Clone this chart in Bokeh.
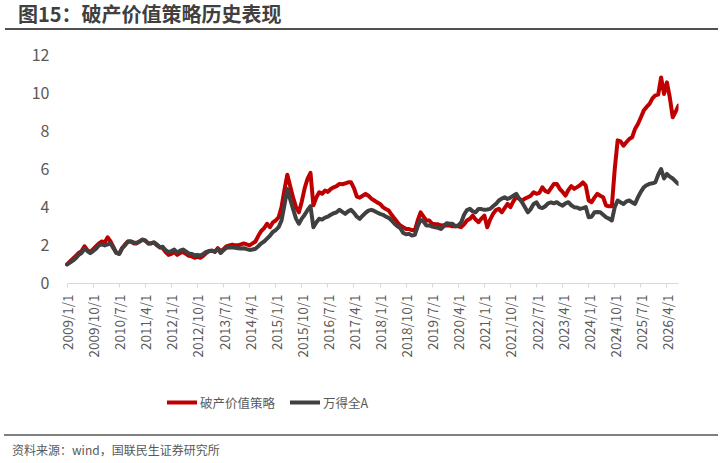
from math import pi

from bokeh.plotting import figure
from bokeh.models import Range1d, FixedTicker, Legend, Div, LinearAxis
from bokeh.layouts import column
from bokeh.embed import file_html
from bokeh.resources import INLINE

FONT = "Noto Sans CJK SC"

title_text = "图15：破产价值策略历史表现"
source_text = "资料来源：wind，国联民生证券研究所"
series_names = ["破产价值策略", "万得全A"]

# x tick labels (every 9 months), data is monthly from 2009/1
tick_labels = ["2009/1/1", "2009/10/1", "2010/7/1", "2011/4/1", "2012/1/1", "2012/10/1",
               "2013/7/1", "2014/4/1", "2015/1/1", "2015/10/1", "2016/7/1", "2017/4/1",
               "2018/1/1", "2018/10/1", "2019/7/1", "2020/4/1", "2021/1/1", "2021/10/1",
               "2022/7/1", "2023/4/1", "2024/1/1", "2024/10/1", "2025/7/1", "2026/4/1"]
y_ticks = [0, 2, 4, 6, 8, 10, 12]

# 破产价值策略 (monthly)
strategy = [
    1.00, 1.15, 1.30, 1.45, 1.60, 1.70, 1.95, 1.75, 1.65, 1.80, 1.95, 2.10,   # 2009
    2.20, 2.15, 2.42, 2.20, 1.90, 1.60, 1.55, 1.85, 2.05, 2.20, 2.20, 2.10,   # 2010
    2.10, 2.20, 2.30, 2.25, 2.10, 2.10, 2.15, 2.00, 1.90, 1.85, 1.65, 1.50,   # 2011
    1.55, 1.65, 1.50, 1.60, 1.65, 1.55, 1.45, 1.42, 1.35, 1.40, 1.35, 1.45,   # 2012
    1.60, 1.70, 1.72, 1.65, 1.85, 1.70, 1.80, 1.95, 2.00, 2.04, 2.00, 2.00,   # 2013
    2.05, 2.10, 2.05, 2.00, 2.10, 2.20, 2.50, 2.75, 2.90, 3.13, 2.95, 3.20,   # 2014
    3.30, 3.47, 4.00, 4.90, 5.70, 5.10, 4.50, 4.00, 3.73, 4.30, 5.00, 5.50,   # 2015
    5.80, 4.10, 4.50, 4.78, 4.70, 4.87, 4.80, 4.95, 5.04, 5.10, 5.22, 5.20,   # 2016
    5.25, 5.30, 5.30, 5.00, 4.55, 4.50, 4.60, 4.70, 4.60, 4.45, 4.35, 4.25,   # 2017
    4.17, 4.00, 3.90, 3.82, 3.60, 3.40, 3.21, 3.04, 2.95, 2.86, 2.85, 2.80,   # 2018
    2.77, 3.30, 3.73, 3.50, 3.30, 3.30, 3.13, 3.10, 3.10, 3.04, 3.05, 3.04,   # 2019
    3.04, 3.00, 3.00, 3.00, 2.95, 3.10, 3.30, 3.39, 3.56, 3.35, 3.21, 3.40,   # 2020
    3.56, 2.95, 3.35, 3.65, 3.85, 3.91, 3.73, 3.95, 4.17, 4.00, 4.30, 4.52,   # 2021
    4.45, 4.34, 4.45, 4.52, 4.60, 4.78, 4.70, 4.75, 5.04, 4.85, 4.78, 5.00,   # 2022
    5.22, 5.22, 4.96, 4.80, 4.61, 4.90, 5.10, 4.96, 5.05, 5.15, 5.30, 5.13,   # 2023
    4.35, 4.26, 4.50, 4.70, 4.60, 4.52, 4.08, 4.05, 4.05, 6.00, 7.50, 7.45,   # 2024
    7.22, 7.40, 7.57, 7.66, 8.10, 8.36, 8.70, 9.06, 9.25, 9.41, 9.70, 9.86,   # 2025
    9.90, 10.80, 9.93, 10.54, 9.75, 8.71, 9.00, 9.32,                         # 2026
]

# 万得全A
wind_a = [
    1.00, 1.10, 1.20, 1.32, 1.50, 1.60, 1.82, 1.70, 1.59, 1.70, 1.82, 2.00,   # 2009
    2.05, 1.99, 2.05, 2.10, 1.85, 1.60, 1.55, 1.85, 2.00, 2.20, 2.20, 2.15,   # 2010
    2.13, 2.20, 2.29, 2.25, 2.10, 2.11, 2.15, 2.05, 1.90, 1.92, 1.75, 1.64,   # 2011
    1.70, 1.78, 1.62, 1.72, 1.78, 1.68, 1.58, 1.55, 1.48, 1.50, 1.47, 1.55,   # 2012
    1.65, 1.70, 1.72, 1.68, 1.80, 1.60, 1.75, 1.87, 1.88, 1.90, 1.87, 1.85,   # 2013
    1.83, 1.85, 1.80, 1.76, 1.78, 1.82, 1.95, 2.10, 2.20, 2.35, 2.50, 2.70,   # 2014
    2.80, 2.95, 3.30, 4.10, 4.95, 4.40, 3.90, 3.40, 3.13, 3.40, 3.60, 3.85,   # 2015
    4.05, 2.95, 3.20, 3.39, 3.35, 3.45, 3.50, 3.60, 3.68, 3.73, 3.86, 3.75,   # 2016
    3.65, 3.78, 3.86, 3.70, 3.50, 3.39, 3.55, 3.70, 3.82, 3.86, 3.80, 3.72,   # 2017
    3.65, 3.60, 3.50, 3.44, 3.30, 3.13, 3.00, 2.90, 2.65, 2.58, 2.60, 2.51,   # 2018
    2.55, 3.00, 3.33, 3.25, 3.04, 3.04, 2.98, 2.95, 2.92, 2.86, 3.00, 3.16,   # 2019
    3.13, 3.13, 3.00, 3.04, 3.20, 3.60, 3.85, 3.91, 3.78, 3.73, 3.91, 3.90,   # 2020
    3.86, 3.88, 3.91, 4.05, 4.17, 4.35, 4.45, 4.52, 4.43, 4.50, 4.60, 4.70,   # 2021
    4.45, 4.26, 4.00, 3.73, 3.90, 4.17, 4.25, 4.00, 3.95, 4.05, 4.20, 4.25,   # 2022
    4.20, 4.26, 4.15, 4.08, 4.20, 4.26, 4.10, 4.00, 3.98, 3.91, 3.95, 4.00,   # 2023
    3.47, 3.50, 3.73, 3.75, 3.73, 3.60, 3.47, 3.40, 3.30, 4.00, 4.35, 4.25,   # 2024
    4.17, 4.30, 4.35, 4.25, 4.17, 4.52, 4.80, 5.04, 5.15, 5.22, 5.25, 5.30,   # 2025
    5.70, 6.00, 5.50, 5.74, 5.60, 5.50, 5.35, 5.22,                           # 2026
]

months = list(range(len(strategy)))


def month_index(label):
    y, m, _ = label.split("/")
    return (int(y) - 2009) * 12 + int(m) - 1


tick_pos = [month_index(t) for t in tick_labels]

# the frame runs on below zero so the legend (inside the frame) is not clipped;
# the x axis is pinned at y=0 and the range starts a little before the first month
# so the first rotated tick label is not cut by the frame edge
p = figure(width=720, height=404, x_range=Range1d(-4, len(months) - 1), y_range=Range1d(-7.18, 12),
           output_backend="svg", toolbar_location=None, x_axis_location=None,
           min_border_left=55, min_border_right=42, min_border_top=24, min_border_bottom=14)
p.outline_line_color = None
p.xgrid.visible = False
p.ygrid.visible = False

r1 = p.line(months, strategy, line_color="#C00000", line_width=4, line_join="round", line_cap="round")
r2 = p.line(months, wind_a, line_color="#404040", line_width=4, line_join="round", line_cap="round")

xaxis = LinearAxis(fixed_location=0, bounds=(0, len(months) - 1), ticker=FixedTicker(ticks=tick_pos),
                   major_label_overrides={pos: lab for pos, lab in zip(tick_pos, tick_labels)},
                   major_label_orientation=pi / 2,
                   axis_line_color="#d9d9d9", major_tick_line_color="#d9d9d9",
                   major_tick_in=0, major_tick_out=4, minor_tick_line_color=None,
                   major_label_standoff=7, major_label_text_font=FONT,
                   major_label_text_font_size="13.5px", major_label_text_color="#595959")
p.add_layout(xaxis, "below")

p.yaxis.ticker = FixedTicker(ticks=y_ticks)
p.yaxis.axis_line_color = None
p.yaxis.major_tick_line_color = None
p.yaxis.minor_tick_line_color = None
p.yaxis.major_label_standoff = 0
p.yaxis.major_label_text_font = FONT
p.yaxis.major_label_text_font_size = "16px"
p.yaxis.major_label_text_color = "#595959"

legend = Legend(items=[(series_names[0], [r1]), (series_names[1], [r2])],
                location=(112, 8), orientation="horizontal",
                glyph_width=30, glyph_height=20, label_height=20, label_standoff=3, spacing=15,
                padding=0, margin=0, border_line_color=None, background_fill_alpha=0,
                label_text_font=FONT, label_text_font_size="12.5px", label_text_color="#595959")
p.add_layout(legend)

title = Div(text=f'<div style="font-family:\'{FONT}\'; font-size:20px; font-weight:bold; color:#404040; '
                 f'line-height:28px; height:30px; margin-left:5px; padding-left:13px; '
                 f'border-bottom:2px solid #505050; width:713px; box-sizing:border-box; '
                 f'white-space:nowrap;">{title_text}</div>',
            width=720, height=30, margin=0)

footer = Div(text=f'<div style="font-family:\'{FONT}\'; font-size:12px; color:#595959; line-height:13px; '
                  f'padding:7px 0 0 8px; margin-left:4px; border-top:2px solid #808080; width:714px; '
                  f'height:29px; box-sizing:border-box; white-space:nowrap;">{source_text}</div>',
             width=720, height=29, margin=0)

layout = column(title, p, footer, spacing=0)

open("out.html", "w").write(file_html(layout, INLINE))
